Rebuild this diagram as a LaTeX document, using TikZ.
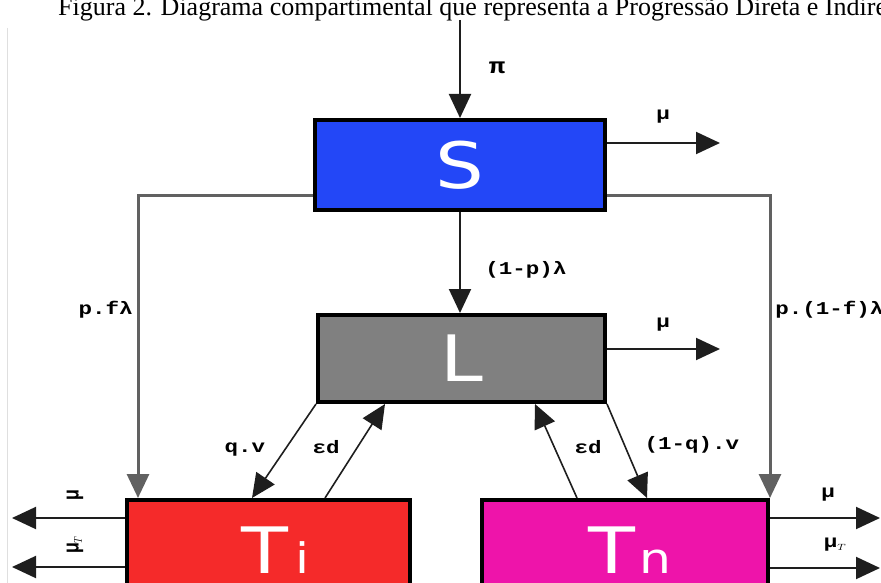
\documentclass[tikz,border=0pt]{standalone}
\usepackage{fontspec}
\setmainfont{Liberation Serif}
\newfontfamily\boxfont{DejaVu Sans}
\newfontfamily\lblfont{Liberation Mono}
\usetikzlibrary{arrows.meta}
\definecolor{sblue}{RGB}{35,71,247}
\definecolor{lgray}{RGB}{128,128,128}
\definecolor{tired}{RGB}{245,42,42}
\definecolor{tnmag}{RGB}{238,20,170}
\definecolor{lineC}{RGB}{30,30,30}
\newcommand{\wide}[1]{\scalebox{1.2}[1]{#1}}
\tikzset{
  comp/.style={draw=black, line width=4pt, inner sep=0pt, text=white,
    font=\boxfont\fontsize{64}{64}\selectfont},
  flow/.style={draw=lineC, line width=2pt, -{Triangle[length=24pt,width=22pt]}},
  thick flow/.style={flow, draw=lineC!70, line width=3pt},
  lbl/.style={font=\lblfont\bfseries\fontsize{18}{18}\selectfont, xscale=1.25, inner sep=0pt},
}
\begin{document}
\begin{tikzpicture}[x=1pt,y=-1pt]
\useasboundingbox (0,0) rectangle (881,583);
% caption (cut off by the page, as in the reference)
\node[anchor=base west, inner sep=0pt, font=\fontsize{26}{26}\selectfont] (cap) at (58,16)
  {Figura 2. Diagrama compartimental que representa a Progressão Direta e Indireta};
\draw[gray!25, line width=1pt] (7,28) -- (7,583);
% compartments
\node[comp, fill=sblue, minimum width=290pt, minimum height=90pt] (S) at (460,165)
  {\wide{\raisebox{-4pt}{S}}};
\node[comp, fill=lgray, minimum width=287pt, minimum height=87pt] (L) at (461.5,358.5)
  {\wide{\raisebox{-2pt}{L}}};
\node[comp, fill=tired, minimum width=283pt, minimum height=100pt] (Ti) at (268.5,550)
  {\hspace*{14pt}\wide{T}\hspace{8pt}{\fontsize{42}{42}\selectfont\wide{i}}};
\node[comp, fill=tnmag, minimum width=286pt, minimum height=100pt] (Tn) at (625,550)
  {\hspace*{10pt}\wide{T}\hspace{4pt}{\fontsize{42}{42}\selectfont\wide{n}}};
% coordinates for free ends
\coordinate (top) at (460,20);
\coordinate (muS) at (720,143);
\coordinate (muL) at (720,349);
\coordinate (tiA) at (12,518);
\coordinate (tiB) at (12,567);
\coordinate (tnA) at (880,518);
\coordinate (tnB) at (880,568);
% flows
\draw[flow] (top) -- (S.north);
\draw[flow] (S.east |- muS) -- (muS);
\draw[thick flow] ([yshift=-30pt]S.west) -| ([xshift=13pt]Ti.north west);
\draw[thick flow] ([yshift=-30pt]S.east) -| (Tn.north east);
\draw[flow] (S.south) -- (S.south |- L.north);
\draw[flow] (L.east |- muL) -- (muL);
\draw[flow, line width=1.6pt] (L.south west) -- ([xshift=-16.5pt]Ti.north);
\draw[flow, line width=1.6pt] ([xshift=56.5pt]Ti.north) -- ([xshift=-76.5pt]L.south);
\draw[flow, line width=1.6pt] ([xshift=-48pt]Tn.north) -- ([xshift=73.5pt]L.south);
\draw[flow, line width=1.6pt] (L.south east) -- ([xshift=22pt]Tn.north);
\draw[flow] (Ti.west |- tiA) -- (tiA);
\draw[flow] (Ti.west |- tiB) -- (tiB);
\draw[flow] (Tn.east |- tnA) -- (tnA);
\draw[flow] (Tn.east |- tnB) -- (tnB);
% labels
\node[lbl, font=\lblfont\bfseries\fontsize{22}{22}\selectfont] (lpi) at (497,68) {π};
\node[lbl] (lmuS) at (663,117) {μ};
\node[lbl] (lmuL) at (663,325) {μ};
\node[lbl, anchor=east] (lpf) at (133,310) {p.fλ};
\node[lbl, anchor=west] (lp1f) at (775,310) {p.(1-f)λ};
\node[lbl, anchor=west] (l1p) at (485,270) {(1-p)λ};
\node[lbl] (lqv) at (245,450) {q.v};
\node[lbl] (led1) at (326,447) {εd};
\node[lbl] (led2) at (588,447) {εd};
\node[lbl] (l1qv) at (692,445) {(1-q).v};
\node[lbl, rotate=90] (lmuTi) at (75,495) {μ};
\node[lbl, rotate=90] (lmuTTi) at (75,545) {μ$_{\scriptscriptstyle T}$};
\node[lbl] (lmuTn) at (828,495) {μ};
\node[lbl] (lmuTTn) at (835,545) {μ$_{\scriptscriptstyle T}$};
\end{tikzpicture}
\end{document}
